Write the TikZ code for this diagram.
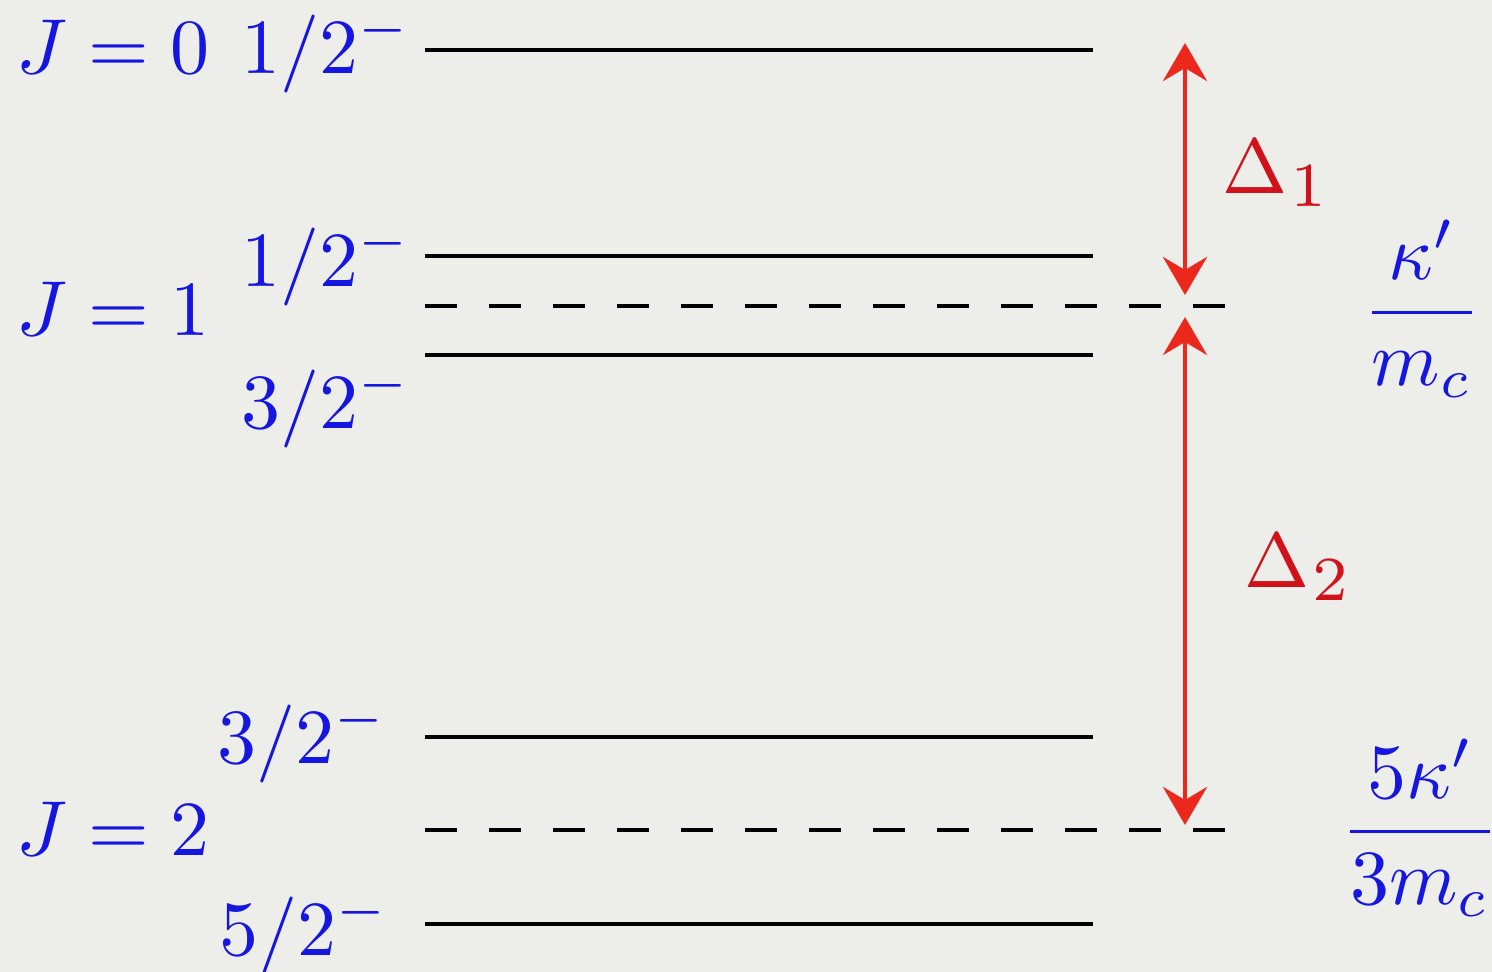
\documentclass[tikz,border=0pt]{standalone}
\usepackage{graphicx}
\usetikzlibrary{arrows.meta}
\definecolor{bg}{RGB}{237,237,233}
\definecolor{lblue}{RGB}{22,22,225}
\definecolor{dred}{RGB}{210,18,26}
\definecolor{ared}{RGB}{236,40,28}
\newcommand{\hugemath}[1]{\scalebox{7.8}{\normalsize$#1$}}
\begin{document}
\begin{tikzpicture}[x=1pt,y=-1pt,
  lvl/.style={line width=4.8pt,black},
  dlvl/.style={line width=4.8pt,black,dash pattern=on 32pt off 32pt},
  lab/.style={inner sep=0pt,text=lblue},
  dlab/.style={inner sep=0pt,text=dred},
  gaparrow/.style={ared,line width=4.5pt,{Stealth[length=38pt,width=44pt,inset=13pt]}-{Stealth[length=38pt,width=44pt,inset=13pt]}}]
\fill[bg] (0,0) rectangle (1492,972);
\useasboundingbox (0,0) rectangle (1492,972);

% level end points
\coordinate (l0w) at (425,50);   \coordinate (l0e) at (1093,50);
\coordinate (l1w) at (425,256);  \coordinate (l1e) at (1093,256);
\coordinate (m1w) at (425,306);  \coordinate (m1e) at (1225,306);
\coordinate (l2w) at (425,355);  \coordinate (l2e) at (1093,355);
\coordinate (l3w) at (425,737);  \coordinate (l3e) at (1093,737);
\coordinate (m2w) at (425,830);  \coordinate (m2e) at (1225,830);
\coordinate (l4w) at (425,924);  \coordinate (l4e) at (1093,924);
% arrow end points
\coordinate (a1t) at (1185,43);  \coordinate (a1b) at (1185,295);
\coordinate (a2t) at (1185,317); \coordinate (a2b) at (1185,825);

\draw[lvl] (l0w) -- (l0e);
\draw[lvl] (l1w) -- (l1e);
\draw[dlvl] (m1w) -- (m1e);
\draw[lvl] (l2w) -- (l2e);
\draw[lvl] (l3w) -- (l3e);
\draw[dlvl] (m2w) -- (m2e);
\draw[lvl] (l4w) -- (l4e);

\draw[gaparrow] (a1t) -- (a1b);
\draw[gaparrow] (a2t) -- (a2b);

\node[lab,anchor=base east] (j0) at (210,73) {\hugemath{J=0}};
\node[lab,anchor=base east] (s0) at (411,73) {\hugemath{1/2^-}};
\node[lab,anchor=base east] (j1) at (210,335) {\hugemath{J=1}};
\node[lab,anchor=base east] (s1a) at (411,286) {\hugemath{1/2^-}};
\node[lab,anchor=base east] (s1b) at (411,428) {\hugemath{3/2^-}};
\node[lab,anchor=base east] (j2) at (210,855) {\hugemath{J=2}};
\node[lab,anchor=base east] (s2a) at (387,763) {\hugemath{3/2^-}};
\node[lab,anchor=base east] (s2b) at (389,955) {\hugemath{5/2^-}};
\node[dlab,anchor=base west] (d1) at (1222,193) {\hugemath{\Delta_{\kern0.4pt\scalebox{1.15}{$\scriptstyle 1$}}}};
\node[dlab,anchor=base west] (d2) at (1244,587) {\hugemath{\Delta_{\kern0.4pt\scalebox{1.15}{$\scriptstyle 2$}}}};
\node[lab,anchor=base] (f1) at (1422,332) {\hugemath{\displaystyle\frac{\kappa'}{m_c}}};
\node[lab,anchor=base] (f2) at (1420,851) {\hugemath{\displaystyle\frac{5\kappa'}{3m_c}}};
\end{tikzpicture}
\end{document}
